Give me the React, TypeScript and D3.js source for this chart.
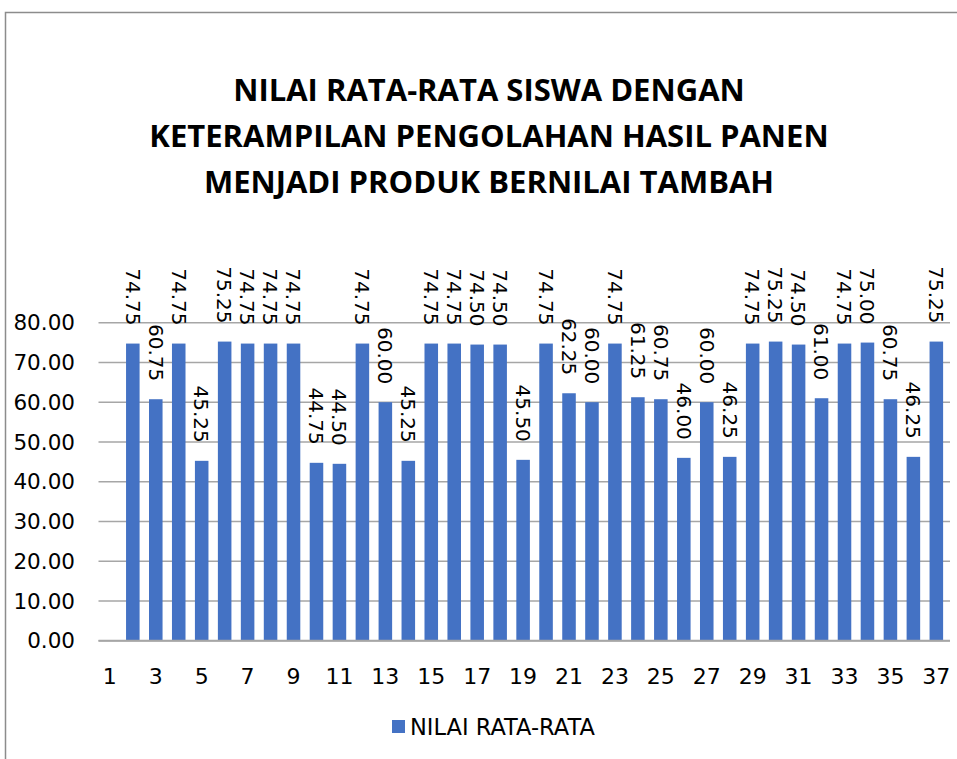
import React, { useEffect, useRef } from 'react';
import * as d3 from 'd3';

const titleLines = [
  'NILAI RATA-RATA SISWA DENGAN',
  'KETERAMPILAN PENGOLAHAN HASIL PANEN',
  'MENJADI PRODUK BERNILAI TAMBAH',
];

const seriesName = 'NILAI RATA-RATA';

// categories 1..37 (the first one has no value)
const categories = [
  '1', '2', '3', '4', '5', '6', '7', '8', '9', '10', '11', '12', '13', '14', '15', '16', '17', '18', '19',
  '20', '21', '22', '23', '24', '25', '26', '27', '28', '29', '30', '31', '32', '33', '34', '35', '36', '37',
];

const values: (number | null)[] = [
  null, 74.75, 60.75, 74.75, 45.25, 75.25, 74.75, 74.75, 74.75, 44.75, 44.5, 74.75, 60.0, 45.25,
  74.75, 74.75, 74.5, 74.5, 45.5, 74.75, 62.25, 60.0, 74.75, 61.25, 60.75, 46.0, 60.0, 46.25,
  74.75, 75.25, 74.5, 61.0, 74.75, 75.0, 60.75, 46.25, 75.25,
];

const xTickLabels = categories.filter((_, i) => i % 2 === 0);
const yTicks = [0, 10, 20, 30, 40, 50, 60, 70, 80];

const barColor = '#4472C4';
const gridColor = '#a6a6a6';
const labelFont = '"DejaVu Sans", sans-serif';

const App: React.FC = () => {
  const svgRef = useRef<SVGSVGElement>(null);

  useEffect(() => {
    if (!svgRef.current) return;
    const width = 957;
    const height = 759;

    const svg = d3.select(svgRef.current);
    svg.selectAll('*').remove();
    svg.attr('width', width).attr('height', height);

    // chart frame
    svg
      .append('rect')
      .attr('x', 5.5)
      .attr('y', 12.5)
      .attr('width', 1200)
      .attr('height', 1000)
      .attr('fill', 'white')
      .attr('stroke', '#8c8c8c')
      .attr('stroke-width', 1.5);

    // title
    const title = svg
      .append('text')
      .attr('text-anchor', 'middle')
      .style('font-family', '"Open Sans", sans-serif')
      .style('font-weight', 'bold')
      .style('font-size', '31px')
      .style('fill', '#000');
    titleLines.forEach((line, i) => {
      title
        .append('tspan')
        .attr('x', 489)
        .attr('y', 101 + i * 46)
        .text(line);
    });

    // scales
    const x = d3.scaleBand<string>().domain(categories).range([98.5, 947.7]).paddingInner(0.41).paddingOuter(0.2);
    const y = d3.scaleLinear().domain([0, 80]).range([640.7, 322.7]);

    // gridlines
    svg
      .append('g')
      .selectAll('line')
      .data(yTicks)
      .enter()
      .append('line')
      .attr('x1', 98.5)
      .attr('x2', 950)
      .attr('y1', (d) => y(d))
      .attr('y2', (d) => y(d))
      .attr('stroke', gridColor)
      .attr('stroke-width', 1.5);

    // y tick labels
    svg
      .append('g')
      .selectAll('text')
      .data(yTicks)
      .enter()
      .append('text')
      .attr('x', 75)
      .attr('y', (d) => y(d))
      .attr('dy', '0.36em')
      .attr('text-anchor', 'end')
      .style('font-family', labelFont)
      .style('font-size', '21.5px')
      .style('fill', '#000')
      .text((d) => d.toFixed(2));

    const data = categories.map((c, i) => ({ category: c, value: values[i] }));
    const withValue = data.filter((d) => d.value !== null) as { category: string; value: number }[];

    // bars
    svg
      .append('g')
      .selectAll('rect')
      .data(withValue)
      .enter()
      .append('rect')
      .attr('x', (d) => x(d.category)!)
      .attr('width', x.bandwidth())
      .attr('y', (d) => y(d.value))
      .attr('height', (d) => y(0) - y(d.value))
      .attr('fill', barColor);

    // zero axis on top
    svg
      .append('line')
      .attr('x1', 98.5)
      .attr('x2', 950)
      .attr('y1', y(0))
      .attr('y2', y(0))
      .attr('stroke', gridColor)
      .attr('stroke-width', 2);

    // data labels, rotated
    svg
      .append('g')
      .selectAll('text')
      .data(withValue)
      .enter()
      .append('text')
      .attr(
        'transform',
        (d) => `translate(${x(d.category)! + x.bandwidth() / 2},${y(d.value) - 18}) rotate(90)`
      )
      .attr('dy', '0.36em')
      .attr('text-anchor', 'end')
      .style('font-family', labelFont)
      .style('font-size', '20px')
      .style('fill', '#000')
      .text((d) => d.value.toFixed(2));

    // x tick labels
    svg
      .append('g')
      .selectAll('text')
      .data(xTickLabels)
      .enter()
      .append('text')
      .attr('x', (d) => x(d)! + x.bandwidth() / 2)
      .attr('y', 676)
      .attr('dy', '0.36em')
      .attr('text-anchor', 'middle')
      .style('font-family', labelFont)
      .style('font-size', '22px')
      .style('fill', '#000')
      .text((d) => d);

    // legend
    const legend = svg.append('g');
    legend
      .append('rect')
      .attr('x', 392)
      .attr('y', 720)
      .attr('width', 13)
      .attr('height', 13)
      .attr('fill', barColor);
    legend
      .append('text')
      .attr('x', 410)
      .attr('y', 727)
      .attr('dy', '0.36em')
      .style('font-family', labelFont)
      .style('font-size', '22.5px')
      .style('fill', '#000')
      .text(seriesName);
  }, []);

  return (
    <div style={{ position: 'absolute', left: 0, top: 0 }}>
      <svg ref={svgRef} style={{ display: 'block' }} />
    </div>
  );
};

export default App;
